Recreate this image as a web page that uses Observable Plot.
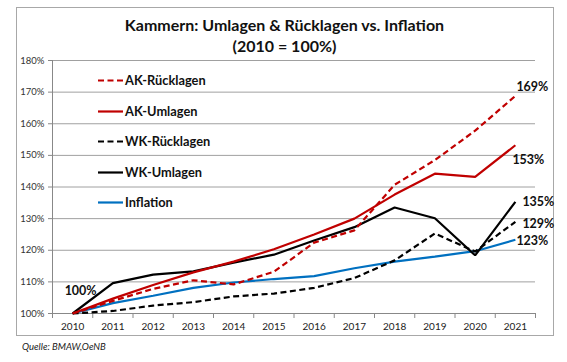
<!DOCTYPE html>
<html>
<head>
<meta charset="utf-8">
<script src="https://cdn.jsdelivr.net/npm/d3@7"></script>
<script src="https://cdn.jsdelivr.net/npm/@observablehq/plot@0.6"></script>
<style>
  html, body { margin: 0; padding: 0; background: #fff; }
  #wrap { position: relative; width: 567px; height: 362px; font-family: Lato, "Open Sans", sans-serif; color: #111; }
  #wrap svg.plot { position: absolute; left: 0; top: 0; }
  .border { position: absolute; left: 16px; top: 7px; width: 538px; height: 329px; border: 1px solid #a8a8a8; box-sizing: border-box; }
  .title { position: absolute; left: 0; width: 567px; text-align: center; font-weight: bold; font-size: 16px; line-height: 20px; }
  .legend { position: absolute; left: 98px; top: 70px; }
  .legend .item { height: 30.5px; display: flex; align-items: flex-start; font-weight: bold; font-size: 12.8px; line-height: 20px; }
  .legend svg { margin-top: 9px; margin-right: 2px; }
  .source { position: absolute; left: 22px; top: 341px; font-style: italic; font-size: 9.5px; color: #222; }
</style>
</head>
<body>
<div id="wrap">
  <div class="border"></div>
</div>
<script>
// ---- data ----
const years = [2010, 2011, 2012, 2013, 2014, 2015, 2016, 2017, 2018, 2019, 2020, 2021];
const akRuecklagen = [100, 104.0, 107.8, 110.5, 109.2, 113.2, 122.4, 126.3, 140.7, 148.5, 157.8, 168.8];
const akUmlagen    = [100, 104.7, 109.0, 113.0, 116.4, 120.3, 125.0, 130.0, 137.6, 144.2, 143.2, 153.2];
const wkRuecklagen = [100, 100.8, 102.5, 103.6, 105.4, 106.3, 108.1, 111.2, 116.8, 125.3, 119.6, 129.0];
const wkUmlagen    = [100, 109.6, 112.3, 113.3, 116.1, 118.6, 123.1, 127.3, 133.5, 130.1, 118.4, 135.3];
const inflation    = [100, 103.3, 105.6, 108.1, 109.8, 110.9, 111.8, 114.3, 116.4, 118.0, 119.7, 123.3];
const yTicks = [100, 110, 120, 130, 140, 150, 160, 170, 180];
const seriesNames = ["AK-Rücklagen", "AK-Umlagen", "WK-Rücklagen", "WK-Umlagen", "Inflation"];
const titleLines = ["Kammern: Umlagen & Rücklagen vs. Inflation", "(2010 = 100%)"];
const sourceText = "Quelle: BMAW,OeNB";

// ---- styles ----
const RED = "#c00000", BLACK = "#000000", BLUE = "#0070c0";
const styles = {
  "AK-Rücklagen": {stroke: RED, dash: "6,3.5"},
  "AK-Umlagen":   {stroke: RED, dash: null},
  "WK-Rücklagen": {stroke: BLACK, dash: "6,3.5"},
  "WK-Umlagen":   {stroke: BLACK, dash: null},
  "Inflation":    {stroke: BLUE, dash: null}
};
const seriesValues = {
  "AK-Rücklagen": akRuecklagen,
  "AK-Umlagen": akUmlagen,
  "WK-Rücklagen": wkRuecklagen,
  "WK-Umlagen": wkUmlagen,
  "Inflation": inflation
};
const rows = name => years.map((year, i) => ({year, value: seriesValues[name][i], name}));
const last = name => rows(name)[years.length - 1];
const first = name => rows(name)[0];

const xDomain = [years[0] - 0.5, years[years.length - 1] + 0.5];
const bounds = years.map(y => y - 0.5).concat([years[years.length - 1] + 0.5]);

const lineMark = name => Plot.line(rows(name), {
  x: "year", y: "value",
  stroke: styles[name].stroke,
  strokeWidth: 2.2,
  strokeDasharray: styles[name].dash || undefined,
  strokeLinejoin: "miter", strokeLinecap: "butt"
});
const labelMark = (name, opts) => Plot.text([last(name)], {
  x: "year", y: "value", text: d => Math.round(d.value) + "%",
  fontWeight: "bold", fontSize: 12.5, fill: "#111", textAnchor: "start", ...opts
});

const chart = Plot.plot({
  width: 567, height: 362,
  marginLeft: 52, marginRight: 32, marginTop: 60, marginBottom: 49,
  style: {fontFamily: "Lato, 'Open Sans', sans-serif", background: "transparent", overflow: "visible"},
  x: {type: "linear", domain: xDomain},
  y: {domain: [yTicks[0], yTicks[yTicks.length - 1]]},
  marks: [
    Plot.gridY(yTicks.slice(1), {stroke: "#a0a0a0", strokeOpacity: 1, strokeWidth: 1}),
    Plot.axisY(yTicks, {tickFormat: d => d + "%", tickSize: 4, tickPadding: 4, fontSize: 9.5, fill: "#333", stroke: "#888", label: null}),
    Plot.axisX(years, {tickSize: 0, tickPadding: 9, tickFormat: d => String(d), fontSize: 10, fill: "#222", label: null}),
    Plot.axisX(bounds, {tickSize: 5, tickFormat: () => "", stroke: "#888", label: null}),
    Plot.ruleY([yTicks[0]], {stroke: "#888"}),
    Plot.ruleX([xDomain[0]], {stroke: "#888"}),
    lineMark("Inflation"),
    lineMark("WK-Rücklagen"),
    lineMark("WK-Umlagen"),
    lineMark("AK-Rücklagen"),
    lineMark("AK-Umlagen"),
    labelMark("AK-Rücklagen", {dx: 1, dy: -9}),
    labelMark("AK-Umlagen", {dx: -3, dy: 15}),
    labelMark("WK-Umlagen", {dx: 7, dy: 0}),
    labelMark("WK-Rücklagen", {dx: 7, dy: 2}),
    labelMark("Inflation", {dx: 1, dy: 1}),
    Plot.text([first("Inflation")], {x: "year", y: "value", text: d => Math.round(d.value) + "%", fontWeight: "bold", fontSize: 12.5, fill: "#111", textAnchor: "middle", dx: 8, dy: -23})
  ]
});
chart.classList.add("plot");
const wrap = document.getElementById("wrap");
wrap.appendChild(chart);

// title
titleLines.forEach((t, i) => {
  const d = document.createElement("div");
  d.className = "title";
  d.style.top = (15 + i * 20.5) + "px";
  d.style.left = "0px";
  d.style.paddingLeft = "1px";
  d.textContent = t;
  wrap.appendChild(d);
});

// legend
const leg = document.createElement("div");
leg.className = "legend";
seriesNames.forEach(name => {
  const it = document.createElement("div");
  it.className = "item";
  const s = styles[name];
  it.innerHTML = `<svg width="25" height="3"><line x1="0" x2="25" y1="1.5" y2="1.5" stroke="${s.stroke}" stroke-width="2.2" ${s.dash ? `stroke-dasharray="${s.dash}"` : ""}/></svg><span>${name}</span>`;
  leg.appendChild(it);
});
wrap.appendChild(leg);

// source
const src = document.createElement("div");
src.className = "source";
src.textContent = sourceText;
wrap.appendChild(src);
</script>
</body>
</html>
